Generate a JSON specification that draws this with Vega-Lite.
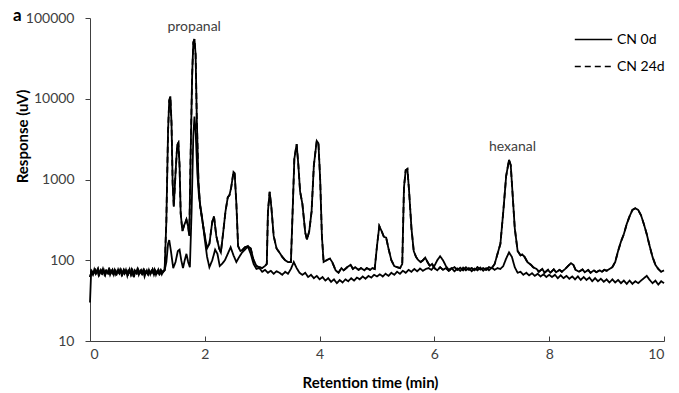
{
  "$schema": "https://vega.github.io/schema/vega-lite/v6.json",
  "width": 574,
  "height": 323,
  "autosize": {"type": "none"},
  "padding": {"left": 90, "top": 18, "right": 15, "bottom": 52},
  "background": "white",
  "config": {
    "view": {"stroke": null},
    "font": "Lato",
    "axis": {"grid": false, "domainColor": "#404040", "tickColor": "#404040", "labelColor": "#404040", "labelFont": "Lato", "labelFontSize": 14, "titleFont": "Lato", "titleFontSize": 15, "titleFontWeight": "bold", "titleColor": "black"}
  },
  "title": {"text": "a", "anchor": "start", "frame": "group", "dx": -77, "dy": 22, "offset": 0, "baseline": "middle", "fontSize": 17, "fontWeight": "bold", "color": "black", "font": "Lato"},
  "datasets": {
    "d0": [
      {"t":0,"v":30},{"t":0.02,"v":72},{"t":0.05,"v":66},{"t":0.075,"v":77},{"t":0.1,"v":68},{"t":0.125,"v":75},{"t":0.15,"v":65},{"t":0.175,"v":73},{"t":0.2,"v":69},{"t":0.225,"v":78},{"t":0.25,"v":67},{"t":0.275,"v":74},{"t":0.3,"v":70},{"t":0.325,"v":77},{"t":0.35,"v":66},{"t":0.375,"v":73},{"t":0.4,"v":68},{"t":0.425,"v":76},{"t":0.45,"v":67},{"t":0.475,"v":74},{"t":0.5,"v":70},{"t":0.525,"v":77},{"t":0.55,"v":66},{"t":0.575,"v":73},{"t":0.6,"v":68},{"t":0.625,"v":76},{"t":0.65,"v":64},{"t":0.675,"v":74},{"t":0.7,"v":69},{"t":0.725,"v":77},{"t":0.75,"v":67},{"t":0.775,"v":75},{"t":0.8,"v":70},{"t":0.825,"v":78},{"t":0.85,"v":66},{"t":0.875,"v":73},{"t":0.9,"v":68},{"t":0.925,"v":75},{"t":0.95,"v":63},{"t":0.975,"v":72},{"t":1.0,"v":68},{"t":1.025,"v":76},{"t":1.05,"v":67},{"t":1.075,"v":74},{"t":1.1,"v":69},{"t":1.125,"v":77},{"t":1.15,"v":66},{"t":1.175,"v":73},{"t":1.2,"v":68},{"t":1.225,"v":75},{"t":1.25,"v":67},{"t":1.275,"v":74},{"t":1.3,"v":75},
      {"t":1.33,"v":95},{"t":1.36,"v":160},{"t":1.38,"v":178},{"t":1.41,"v":130},{"t":1.45,"v":80},{"t":1.49,"v":95},{"t":1.53,"v":130},{"t":1.56,"v":135},{"t":1.59,"v":100},{"t":1.62,"v":80},{"t":1.65,"v":100},{"t":1.68,"v":120},{"t":1.71,"v":95},{"t":1.74,"v":82},{"t":1.77,"v":400},{"t":1.8,"v":3500},{"t":1.82,"v":6000},{"t":1.84,"v":4000},{"t":1.87,"v":1200},{"t":1.9,"v":600},{"t":1.95,"v":350},{"t":2.0,"v":180},{"t":2.04,"v":110},{"t":2.08,"v":82},{"t":2.13,"v":100},{"t":2.18,"v":135},{"t":2.22,"v":120},{"t":2.26,"v":85},{"t":2.3,"v":90},{"t":2.35,"v":100},{"t":2.4,"v":120},{"t":2.45,"v":145},{"t":2.5,"v":115},{"t":2.55,"v":95},{"t":2.6,"v":110},{"t":2.65,"v":125},{"t":2.7,"v":135},{"t":2.75,"v":148},{"t":2.8,"v":120},{"t":2.85,"v":90},{"t":2.9,"v":78},{"t":2.95,"v":80},
      {"t":3.0,"v":72},{"t":3.05,"v":76},{"t":3.1,"v":70},{"t":3.15,"v":74},{"t":3.2,"v":68},{"t":3.25,"v":73},{"t":3.3,"v":70},{"t":3.35,"v":66},{"t":3.4,"v":72},{"t":3.45,"v":68},{"t":3.5,"v":78},{"t":3.55,"v":95},{"t":3.6,"v":80},{"t":3.65,"v":70},{"t":3.7,"v":66},{"t":3.75,"v":70},{"t":3.8,"v":62},{"t":3.85,"v":66},{"t":3.9,"v":60},{"t":3.95,"v":64},{"t":4.0,"v":58},{"t":4.05,"v":62},{"t":4.1,"v":56},{"t":4.15,"v":60},{"t":4.2,"v":54},{"t":4.25,"v":58},{"t":4.3,"v":52},{"t":4.35,"v":57},{"t":4.4,"v":53},{"t":4.45,"v":58},{"t":4.5,"v":55},{"t":4.55,"v":60},{"t":4.6,"v":56},{"t":4.65,"v":61},{"t":4.7,"v":58},{"t":4.75,"v":63},{"t":4.8,"v":59},{"t":4.85,"v":64},{"t":4.9,"v":61},{"t":4.95,"v":66},{"t":5.0,"v":63},{"t":5.05,"v":67},{"t":5.1,"v":63},{"t":5.15,"v":68},{"t":5.2,"v":64},{"t":5.25,"v":70},{"t":5.3,"v":66},{"t":5.35,"v":72},{"t":5.4,"v":68},{"t":5.45,"v":74},{"t":5.5,"v":70},{"t":5.55,"v":76},{"t":5.6,"v":72},{"t":5.65,"v":78},{"t":5.7,"v":73},{"t":5.75,"v":79},{"t":5.8,"v":74},{"t":5.85,"v":78},{"t":5.9,"v":80},{"t":5.95,"v":76},
      {"t":6.0,"v":85},{"t":6.05,"v":100},{"t":6.1,"v":112},{"t":6.15,"v":100},{"t":6.2,"v":85},{"t":6.25,"v":76},{"t":6.3,"v":80},{"t":6.35,"v":73},{"t":6.4,"v":79},{"t":6.45,"v":74},{"t":6.5,"v":81},{"t":6.55,"v":75},{"t":6.6,"v":80},{"t":6.65,"v":73},{"t":6.7,"v":79},{"t":6.75,"v":75},{"t":6.8,"v":81},{"t":6.85,"v":74},{"t":6.9,"v":80},{"t":6.95,"v":75},{"t":7.0,"v":81},{"t":7.05,"v":76},{"t":7.1,"v":80},{"t":7.15,"v":78},{"t":7.2,"v":85},{"t":7.25,"v":105},{"t":7.3,"v":125},{"t":7.35,"v":110},{"t":7.4,"v":82},{"t":7.45,"v":70},{"t":7.5,"v":72},{"t":7.55,"v":66},{"t":7.6,"v":70},{"t":7.65,"v":65},{"t":7.7,"v":69},{"t":7.75,"v":64},{"t":7.8,"v":68},{"t":7.85,"v":63},{"t":7.9,"v":67},{"t":7.95,"v":62},
      {"t":8.0,"v":66},{"t":8.05,"v":62},{"t":8.1,"v":66},{"t":8.15,"v":60},{"t":8.2,"v":65},{"t":8.25,"v":60},{"t":8.3,"v":64},{"t":8.35,"v":59},{"t":8.4,"v":63},{"t":8.45,"v":58},{"t":8.5,"v":63},{"t":8.55,"v":57},{"t":8.6,"v":62},{"t":8.65,"v":57},{"t":8.7,"v":61},{"t":8.75,"v":55},{"t":8.8,"v":60},{"t":8.85,"v":55},{"t":8.9,"v":59},{"t":8.95,"v":54},{"t":9.0,"v":58},{"t":9.05,"v":53},{"t":9.1,"v":58},{"t":9.15,"v":53},{"t":9.2,"v":57},{"t":9.25,"v":52},{"t":9.3,"v":56},{"t":9.35,"v":51},{"t":9.4,"v":56},{"t":9.45,"v":51},{"t":9.5,"v":55},{"t":9.55,"v":52},{"t":9.6,"v":56},{"t":9.65,"v":60},{"t":9.7,"v":64},{"t":9.75,"v":57},{"t":9.8,"v":52},{"t":9.85,"v":56},{"t":9.9,"v":50},{"t":9.95,"v":55},{"t":10.0,"v":52}
    ],
    "d24": [
      {"t":0,"v":62},{"t":0.03,"v":74},{"t":0.06,"v":68},{"t":0.09,"v":76},{"t":0.115,"v":70},{"t":0.14,"v":78},{"t":0.165,"v":67},{"t":0.19,"v":75},{"t":0.215,"v":69},{"t":0.24,"v":76},{"t":0.265,"v":66},{"t":0.29,"v":74},{"t":0.315,"v":69},{"t":0.34,"v":77},{"t":0.365,"v":70},{"t":0.39,"v":76},{"t":0.415,"v":66},{"t":0.44,"v":74},{"t":0.465,"v":68},{"t":0.49,"v":77},{"t":0.515,"v":69},{"t":0.54,"v":75},{"t":0.565,"v":67},{"t":0.59,"v":76},{"t":0.615,"v":70},{"t":0.64,"v":74},{"t":0.665,"v":68},{"t":0.69,"v":77},{"t":0.715,"v":66},{"t":0.74,"v":74},{"t":0.765,"v":62},{"t":0.79,"v":73},{"t":0.815,"v":69},{"t":0.84,"v":77},{"t":0.865,"v":70},{"t":0.89,"v":75},{"t":0.915,"v":68},{"t":0.94,"v":76},{"t":0.965,"v":69},{"t":0.99,"v":75},{"t":1.015,"v":67},{"t":1.04,"v":74},{"t":1.065,"v":70},{"t":1.09,"v":77},{"t":1.115,"v":66},{"t":1.14,"v":74},{"t":1.165,"v":70},{"t":1.19,"v":77},{"t":1.215,"v":68},{"t":1.24,"v":75},{"t":1.265,"v":70},{"t":1.3,"v":76},
      {"t":1.33,"v":300},{"t":1.36,"v":4000},{"t":1.38,"v":9500},{"t":1.4,"v":10700},{"t":1.42,"v":5000},{"t":1.44,"v":900},{"t":1.46,"v":460},{"t":1.49,"v":1200},{"t":1.52,"v":2700},{"t":1.54,"v":2850},{"t":1.56,"v":1500},{"t":1.58,"v":380},{"t":1.61,"v":230},{"t":1.64,"v":270},{"t":1.68,"v":320},{"t":1.71,"v":260},{"t":1.73,"v":200},{"t":1.75,"v":1500},{"t":1.78,"v":20000},{"t":1.8,"v":50000},{"t":1.82,"v":55000},{"t":1.84,"v":35000},{"t":1.86,"v":6000},{"t":1.89,"v":900},{"t":1.92,"v":460},{"t":1.96,"v":300},{"t":2.0,"v":200},{"t":2.04,"v":140},{"t":2.08,"v":160},{"t":2.13,"v":300},{"t":2.16,"v":350},{"t":2.2,"v":200},{"t":2.25,"v":140},{"t":2.28,"v":125},{"t":2.32,"v":220},{"t":2.36,"v":400},{"t":2.4,"v":600},{"t":2.43,"v":640},{"t":2.46,"v":800},{"t":2.5,"v":1240},{"t":2.52,"v":1200},{"t":2.55,"v":500},{"t":2.58,"v":150},{"t":2.62,"v":130},{"t":2.66,"v":135},{"t":2.7,"v":145},{"t":2.75,"v":150},{"t":2.8,"v":140},{"t":2.85,"v":100},{"t":2.9,"v":85},{"t":2.95,"v":82},
      {"t":3.0,"v":80},{"t":3.05,"v":85},{"t":3.08,"v":90},{"t":3.1,"v":400},{"t":3.13,"v":705},{"t":3.16,"v":450},{"t":3.2,"v":200},{"t":3.25,"v":140},{"t":3.3,"v":125},{"t":3.35,"v":110},{"t":3.4,"v":100},{"t":3.45,"v":95},{"t":3.5,"v":95},{"t":3.53,"v":400},{"t":3.56,"v":1800},{"t":3.6,"v":2750},{"t":3.63,"v":1500},{"t":3.66,"v":710},{"t":3.7,"v":500},{"t":3.75,"v":220},{"t":3.78,"v":180},{"t":3.82,"v":230},{"t":3.86,"v":400},{"t":3.9,"v":1500},{"t":3.95,"v":3000},{"t":3.98,"v":2800},{"t":4.01,"v":1000},{"t":4.04,"v":200},{"t":4.07,"v":95},{"t":4.12,"v":100},{"t":4.18,"v":105},{"t":4.22,"v":95},{"t":4.28,"v":75},{"t":4.33,"v":70},{"t":4.38,"v":80},{"t":4.42,"v":75},{"t":4.48,"v":82},{"t":4.54,"v":88},{"t":4.58,"v":78},{"t":4.62,"v":82},{"t":4.68,"v":76},{"t":4.72,"v":80},{"t":4.78,"v":75},{"t":4.82,"v":80},{"t":4.88,"v":76},{"t":4.92,"v":80},{"t":4.96,"v":78},
      {"t":5.0,"v":150},{"t":5.04,"v":265},{"t":5.08,"v":230},{"t":5.12,"v":195},{"t":5.16,"v":190},{"t":5.2,"v":140},{"t":5.25,"v":100},{"t":5.3,"v":85},{"t":5.35,"v":82},{"t":5.4,"v":80},{"t":5.44,"v":90},{"t":5.47,"v":800},{"t":5.5,"v":1300},{"t":5.53,"v":1350},{"t":5.56,"v":700},{"t":5.6,"v":250},{"t":5.64,"v":130},{"t":5.68,"v":110},{"t":5.72,"v":100},{"t":5.76,"v":95},{"t":5.8,"v":100},{"t":5.84,"v":108},{"t":5.88,"v":95},{"t":5.92,"v":85},{"t":5.96,"v":90},
      {"t":6.0,"v":80},{"t":6.05,"v":75},{"t":6.1,"v":82},{"t":6.15,"v":76},{"t":6.2,"v":80},{"t":6.25,"v":74},{"t":6.3,"v":79},{"t":6.35,"v":82},{"t":6.4,"v":76},{"t":6.45,"v":81},{"t":6.5,"v":75},{"t":6.55,"v":82},{"t":6.6,"v":76},{"t":6.65,"v":80},{"t":6.7,"v":75},{"t":6.75,"v":82},{"t":6.8,"v":77},{"t":6.85,"v":80},{"t":6.9,"v":76},{"t":6.95,"v":82},{"t":7.0,"v":80},{"t":7.05,"v":90},{"t":7.1,"v":120},{"t":7.15,"v":160},{"t":7.2,"v":400},{"t":7.25,"v":1100},{"t":7.3,"v":1750},{"t":7.33,"v":1500},{"t":7.36,"v":700},{"t":7.4,"v":250},{"t":7.45,"v":130},{"t":7.5,"v":115},{"t":7.53,"v":118},{"t":7.57,"v":110},{"t":7.62,"v":95},{"t":7.68,"v":88},{"t":7.72,"v":82},{"t":7.78,"v":78},{"t":7.82,"v":72},{"t":7.88,"v":78},{"t":7.92,"v":70},{"t":7.98,"v":76},
      {"t":8.02,"v":70},{"t":8.08,"v":77},{"t":8.12,"v":71},{"t":8.18,"v":76},{"t":8.22,"v":72},{"t":8.28,"v":78},{"t":8.33,"v":85},{"t":8.38,"v":92},{"t":8.42,"v":88},{"t":8.46,"v":76},{"t":8.52,"v":72},{"t":8.58,"v":77},{"t":8.62,"v":71},{"t":8.68,"v":76},{"t":8.72,"v":70},{"t":8.78,"v":75},{"t":8.82,"v":71},{"t":8.88,"v":75},{"t":8.92,"v":72},{"t":8.96,"v":76},{"t":9.0,"v":74},{"t":9.05,"v":78},{"t":9.1,"v":82},{"t":9.15,"v":95},{"t":9.2,"v":130},{"t":9.25,"v":170},{"t":9.3,"v":210},{"t":9.35,"v":280},{"t":9.4,"v":350},{"t":9.45,"v":420},{"t":9.5,"v":440},{"t":9.55,"v":420},{"t":9.6,"v":360},{"t":9.65,"v":280},{"t":9.7,"v":210},{"t":9.75,"v":150},{"t":9.8,"v":110},{"t":9.85,"v":88},{"t":9.9,"v":78},{"t":9.95,"v":72},{"t":10.0,"v":75}
    ],
    "lab": [
      {"t": 1.815, "v": 78000, "label": "propanal"},
      {"t": 7.36, "v": 2500, "label": "hexanal"}
    ]
  },
  "encoding": {
    "x": {"field": "t", "type": "quantitative", "scale": {"domain": [0, 10], "nice": false},
      "axis": {"values": [0, 2, 4, 6, 8, 10], "title": "Retention time (min)", "tickSize": -5, "labelPadding": 11, "titleX": 280, "titleY": 41, "titleBaseline": "middle"}},
    "y": {"field": "v", "type": "quantitative", "scale": {"type": "log", "domain": [10, 100000], "nice": false},
      "axis": {"values": [10, 100, 1000, 10000, 100000], "format": "d", "title": "Response (uV)", "tickSize": 5, "labelPadding": 11, "titleX": -68, "titleY": 118, "titleAngle": 270, "titleAlign": "center", "titleBaseline": "middle"}}
  },
  "layer": [
    {
      "data": {"name": "d24"},
      "mark": {"type": "line", "color": "black", "strokeWidth": 1.8},
      "encoding": {"strokeDash": {"datum": "CN 24d", "type": "nominal",
        "scale": {"domain": ["CN 0d", "CN 24d"], "range": [[1, 0], [6, 4]]},
        "legend": {"title": null, "orient": "none", "legendX": 484, "legendY": 2, "symbolType": "stroke", "symbolSize": 1400, "symbolStrokeWidth": 1.5, "symbolStrokeColor": "black", "labelFont": "Lato", "labelFontSize": 14, "labelColor": "black", "rowPadding": -11, "labelOffset": 4}}}
    },
    {
      "data": {"name": "d24"},
      "mark": {"type": "line", "color": "black", "strokeWidth": 1.8}
    },
    {
      "data": {"name": "d0"},
      "mark": {"type": "line", "color": "black", "strokeWidth": 1.8},
      "encoding": {"strokeDash": {"datum": "CN 0d", "type": "nominal"}}
    },
    {
      "data": {"name": "lab"},
      "mark": {"type": "text", "font": "Lato", "fontSize": 14, "color": "#404040", "baseline": "middle"},
      "encoding": {"text": {"field": "label"}}
    }
  ]
}
